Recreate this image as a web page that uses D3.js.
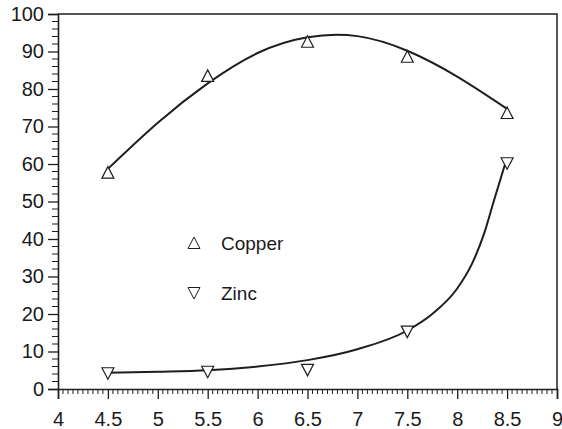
<!DOCTYPE html>
<html><head><meta charset="utf-8">
<script src="https://cdn.jsdelivr.net/npm/d3@7"></script>
<style>
html,body{margin:0;padding:0;background:#fff;}
svg text{font-family:"Liberation Sans",Arial,sans-serif;fill:#1a1a1a;}
</style></head>
<body><svg id="c" width="562" height="429"></svg>
<script>
// Measured points
const phValues = [4.5, 5.5, 6.5, 7.5, 8.5];
const copperValues = [57.7, 83.5, 92.6, 88.6, 73.6];
const zincValues = [4.2, 4.6, 5.1, 15.3, 60.2];
// Fitted curves
const copperCurveX = [4.5, 5, 5.5, 6, 6.5, 7, 7.5, 8, 8.5];
const copperCurveY = [58.7, 71, 81.5, 89.6, 93.8, 94.1, 90.2, 83.3, 74.7];
const zincCurveX = [4.5, 5, 5.5, 6, 6.5, 7, 7.5, 7.75, 8, 8.15, 8.27, 8.37, 8.48];
const zincCurveY = [4.35, 4.6, 5.0, 6.0, 7.7, 10.6, 15.6, 20.0, 26.8, 33.5, 41.5, 50.4, 60.0];
const xTicks = [4, 4.5, 5, 5.5, 6, 6.5, 7, 7.5, 8, 8.5, 9];
const yTicks = [0, 10, 20, 30, 40, 50, 60, 70, 80, 90, 100];
const legendLabels = ["Copper", "Zinc"];

const svg = d3.select("#c");
const x = d3.scaleLinear().domain([4, 9]).range([58, 557]);
const y = d3.scaleLinear().domain([0, 100]).range([389, 14]);
const ink = "#1e1e1e";

// frame (top and right)
svg.append("path")
  .attr("d", `M${x(4)},${y(100)} H${x(9)} V${y(0)}`)
  .attr("fill", "none").attr("stroke", ink).attr("stroke-width", 1.5);

// minor ticks
const yMinor = d3.range(0, 100.01, 2).filter(v => v % 10 !== 0);
svg.append("g").selectAll("line").data(yMinor).join("line")
  .attr("x1", x(4) - 6).attr("x2", x(4))
  .attr("y1", d => y(d)).attr("y2", d => y(d))
  .attr("stroke", ink).attr("stroke-width", 1);
const xMinor = d3.range(0, 100).map(i => 4 + i * 0.05).filter((v, i) => i % 10 !== 0);
svg.append("g").selectAll("line").data(xMinor).join("line")
  .attr("x1", d => x(d)).attr("x2", d => x(d))
  .attr("y1", y(0)).attr("y2", y(0) + 5)
  .attr("stroke", ink).attr("stroke-width", 1);

// axes
const gy = svg.append("g").attr("transform", `translate(${x(4)},0)`)
  .call(d3.axisLeft(y).tickValues(yTicks).tickSize(10).tickPadding(4).tickFormat(d3.format("d")));
const gx = svg.append("g").attr("transform", `translate(0,${y(0)})`)
  .call(d3.axisBottom(x).tickValues(xTicks).tickSize(10).tickPadding(10).tickFormat(d => String(d)));
[gy, gx].forEach(g => {
  g.select(".domain").attr("stroke", ink).attr("stroke-width", 1.6);
  g.selectAll(".tick line").attr("stroke", ink).attr("stroke-width", 1.3);
  g.selectAll(".tick text").attr("font-size", 20).attr("font-family", '"Liberation Sans",Arial,sans-serif').attr("fill", "#1a1a1a");
});
gx.selectAll(".tick text").attr("dy", "0.85em");

// curves
const lineN = d3.line().x(d => x(d[0])).y(d => y(d[1])).curve(d3.curveNatural);
const lineM = d3.line().x(d => x(d[0])).y(d => y(d[1])).curve(d3.curveMonotoneX);
svg.append("path").datum(d3.zip(copperCurveX, copperCurveY)).attr("d", lineN)
  .attr("fill", "none").attr("stroke", ink).attr("stroke-width", 2);
svg.append("path").datum(d3.zip(zincCurveX, zincCurveY)).attr("d", lineM)
  .attr("fill", "none").attr("stroke", ink).attr("stroke-width", 2);

const up = "M-6,5.5L0,-6L6,5.5Z";
const down = "M-6,-5.5L0,6L6,-5.5Z";
svg.append("g").selectAll("path").data(d3.zip(phValues, copperValues)).join("path")
  .attr("d", up).attr("transform", d => `translate(${x(d[0])},${y(d[1])})`)
  .attr("fill", "#fff").attr("stroke", ink).attr("stroke-width", 1.2);
svg.append("g").selectAll("path").data(d3.zip(phValues, zincValues)).join("path")
  .attr("d", down).attr("transform", d => `translate(${x(d[0])},${y(d[1])})`)
  .attr("fill", "#fff").attr("stroke", ink).attr("stroke-width", 1.2);

// legend
const leg = svg.append("g");
[up, down].forEach((shape, i) => {
  const cy = 243 + i * 50;
  leg.append("path").attr("d", shape).attr("transform", `translate(194,${cy})`)
    .attr("fill", "#fff").attr("stroke", ink).attr("stroke-width", 1);
  leg.append("text").attr("x", 221).attr("y", cy).attr("dy", "0.35em")
    .attr("font-size", 19).text(legendLabels[i]);
});
</script></body></html>
